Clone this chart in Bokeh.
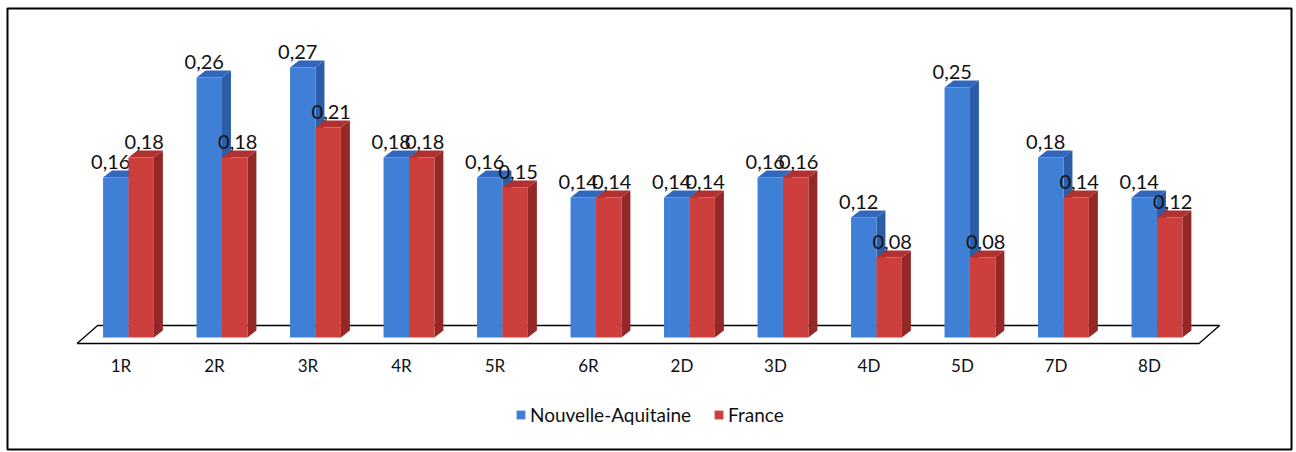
from bokeh.plotting import figure
from bokeh.models import Range1d, ColumnDataSource, Legend, LegendItem
from bokeh.core.properties import value
from bokeh.embed import file_html
from bokeh.resources import INLINE

categories = ["1R", "2R", "3R", "4R", "5R", "6R", "2D", "3D", "4D", "5D", "7D", "8D"]
nouvelle_aquitaine = [0.16, 0.26, 0.27, 0.18, 0.16, 0.14, 0.14, 0.16, 0.12, 0.25, 0.18, 0.14]
france = [0.18, 0.18, 0.21, 0.18, 0.15, 0.14, 0.14, 0.16, 0.08, 0.08, 0.14, 0.12]
series_names = ["Nouvelle-Aquitaine", "France"]

BLUE = ("#3f80d6", "#2c5ea8", "#3168bd")   # front, side, top
RED = ("#cc3f3d", "#942826", "#b0312f")

W = 0.272     # bar width (category units)
DX = 0.096    # depth offset x (category units)
DY = 0.007    # depth offset y (value units)
FS = "Lato"

p = figure(width=1294, height=451, output_backend="svg", toolbar_location=None,
           x_range=Range1d(-1.294, 12.439), y_range=Range1d(-0.112, 0.329),
           min_border_left=7, min_border_right=3, min_border_top=8, min_border_bottom=2)
p.xaxis.visible = False
p.yaxis.visible = False
p.grid.visible = False
p.outline_line_color = "black"
p.outline_line_width = 2
p.background_fill_color = "white"
p.border_fill_color = "white"

n = len(categories)
# floor
fx0, fx1, shift = -0.55, n - 1 + 0.45, 0.22
p.patch([fx0, fx1, fx1 + shift, fx0 + shift], [-0.006, -0.006, 0.012, 0.012],
        fill_color="white", line_color="black", line_width=1.3)

renderers = []
for s, (vals, cols, off, lab_dx) in enumerate([(nouvelle_aquitaine, BLUE, -W, -5),
                                               (france, RED, 0.0, 3)]):
    left = [i + off for i in range(n)]
    right = [l + W for l in left]
    src = ColumnDataSource(dict(left=left, right=right, top=vals, bottom=[0] * n))
    side_xs = [[r, r + DX, r + DX, r] for r in right]
    side_ys = [[0, DY, v + DY, v] for v in vals]
    top_xs = [[l, l + DX, r + DX, r] for l, r in zip(left, right)]
    top_ys = [[v, v + DY, v + DY, v] for v in vals]
    p.patches(side_xs, side_ys, fill_color=cols[1], line_color=None)
    p.patches(top_xs, top_ys, fill_color=cols[2], line_color=None)
    r = p.quad(left="left", right="right", top="top", bottom="bottom", source=src,
               fill_color=cols[0], line_color=None)
    renderers.append(r)
    lab = ColumnDataSource(dict(x=[(l + r2) / 2 for l, r2 in zip(left, right)],
                                y=vals, t=[f"{v:.2f}".replace(".", ",") for v in vals]))
    p.text(x="x", y="y", text="t", source=lab, text_font=value(FS), text_font_size="20px",
           text_align="center", text_baseline="alphabetic", x_offset=lab_dx, y_offset=-16,
           text_color="#111111")

cat_src = ColumnDataSource(dict(x=[i - 0.08 for i in range(n)], y=[-0.028] * n, t=categories))
p.text(x="x", y="y", text="t", source=cat_src, text_font=value(FS), text_font_size="17px",
       text_align="center", text_baseline="middle", text_color="#111111")

legend = Legend(items=[LegendItem(label=series_names[0], renderers=[renderers[0]]),
                       LegendItem(label=series_names[1], renderers=[renderers[1]])],
                orientation="horizontal", location=(508, 23),
                label_text_font=FS, label_text_font_size="19px", label_text_color="#111111",
                glyph_width=11, glyph_height=11, label_standoff=4, spacing=22,
                padding=0, margin=0, border_line_color=None, background_fill_alpha=0)
p.add_layout(legend)

open("out.html", "w").write(file_html(p, INLINE))
